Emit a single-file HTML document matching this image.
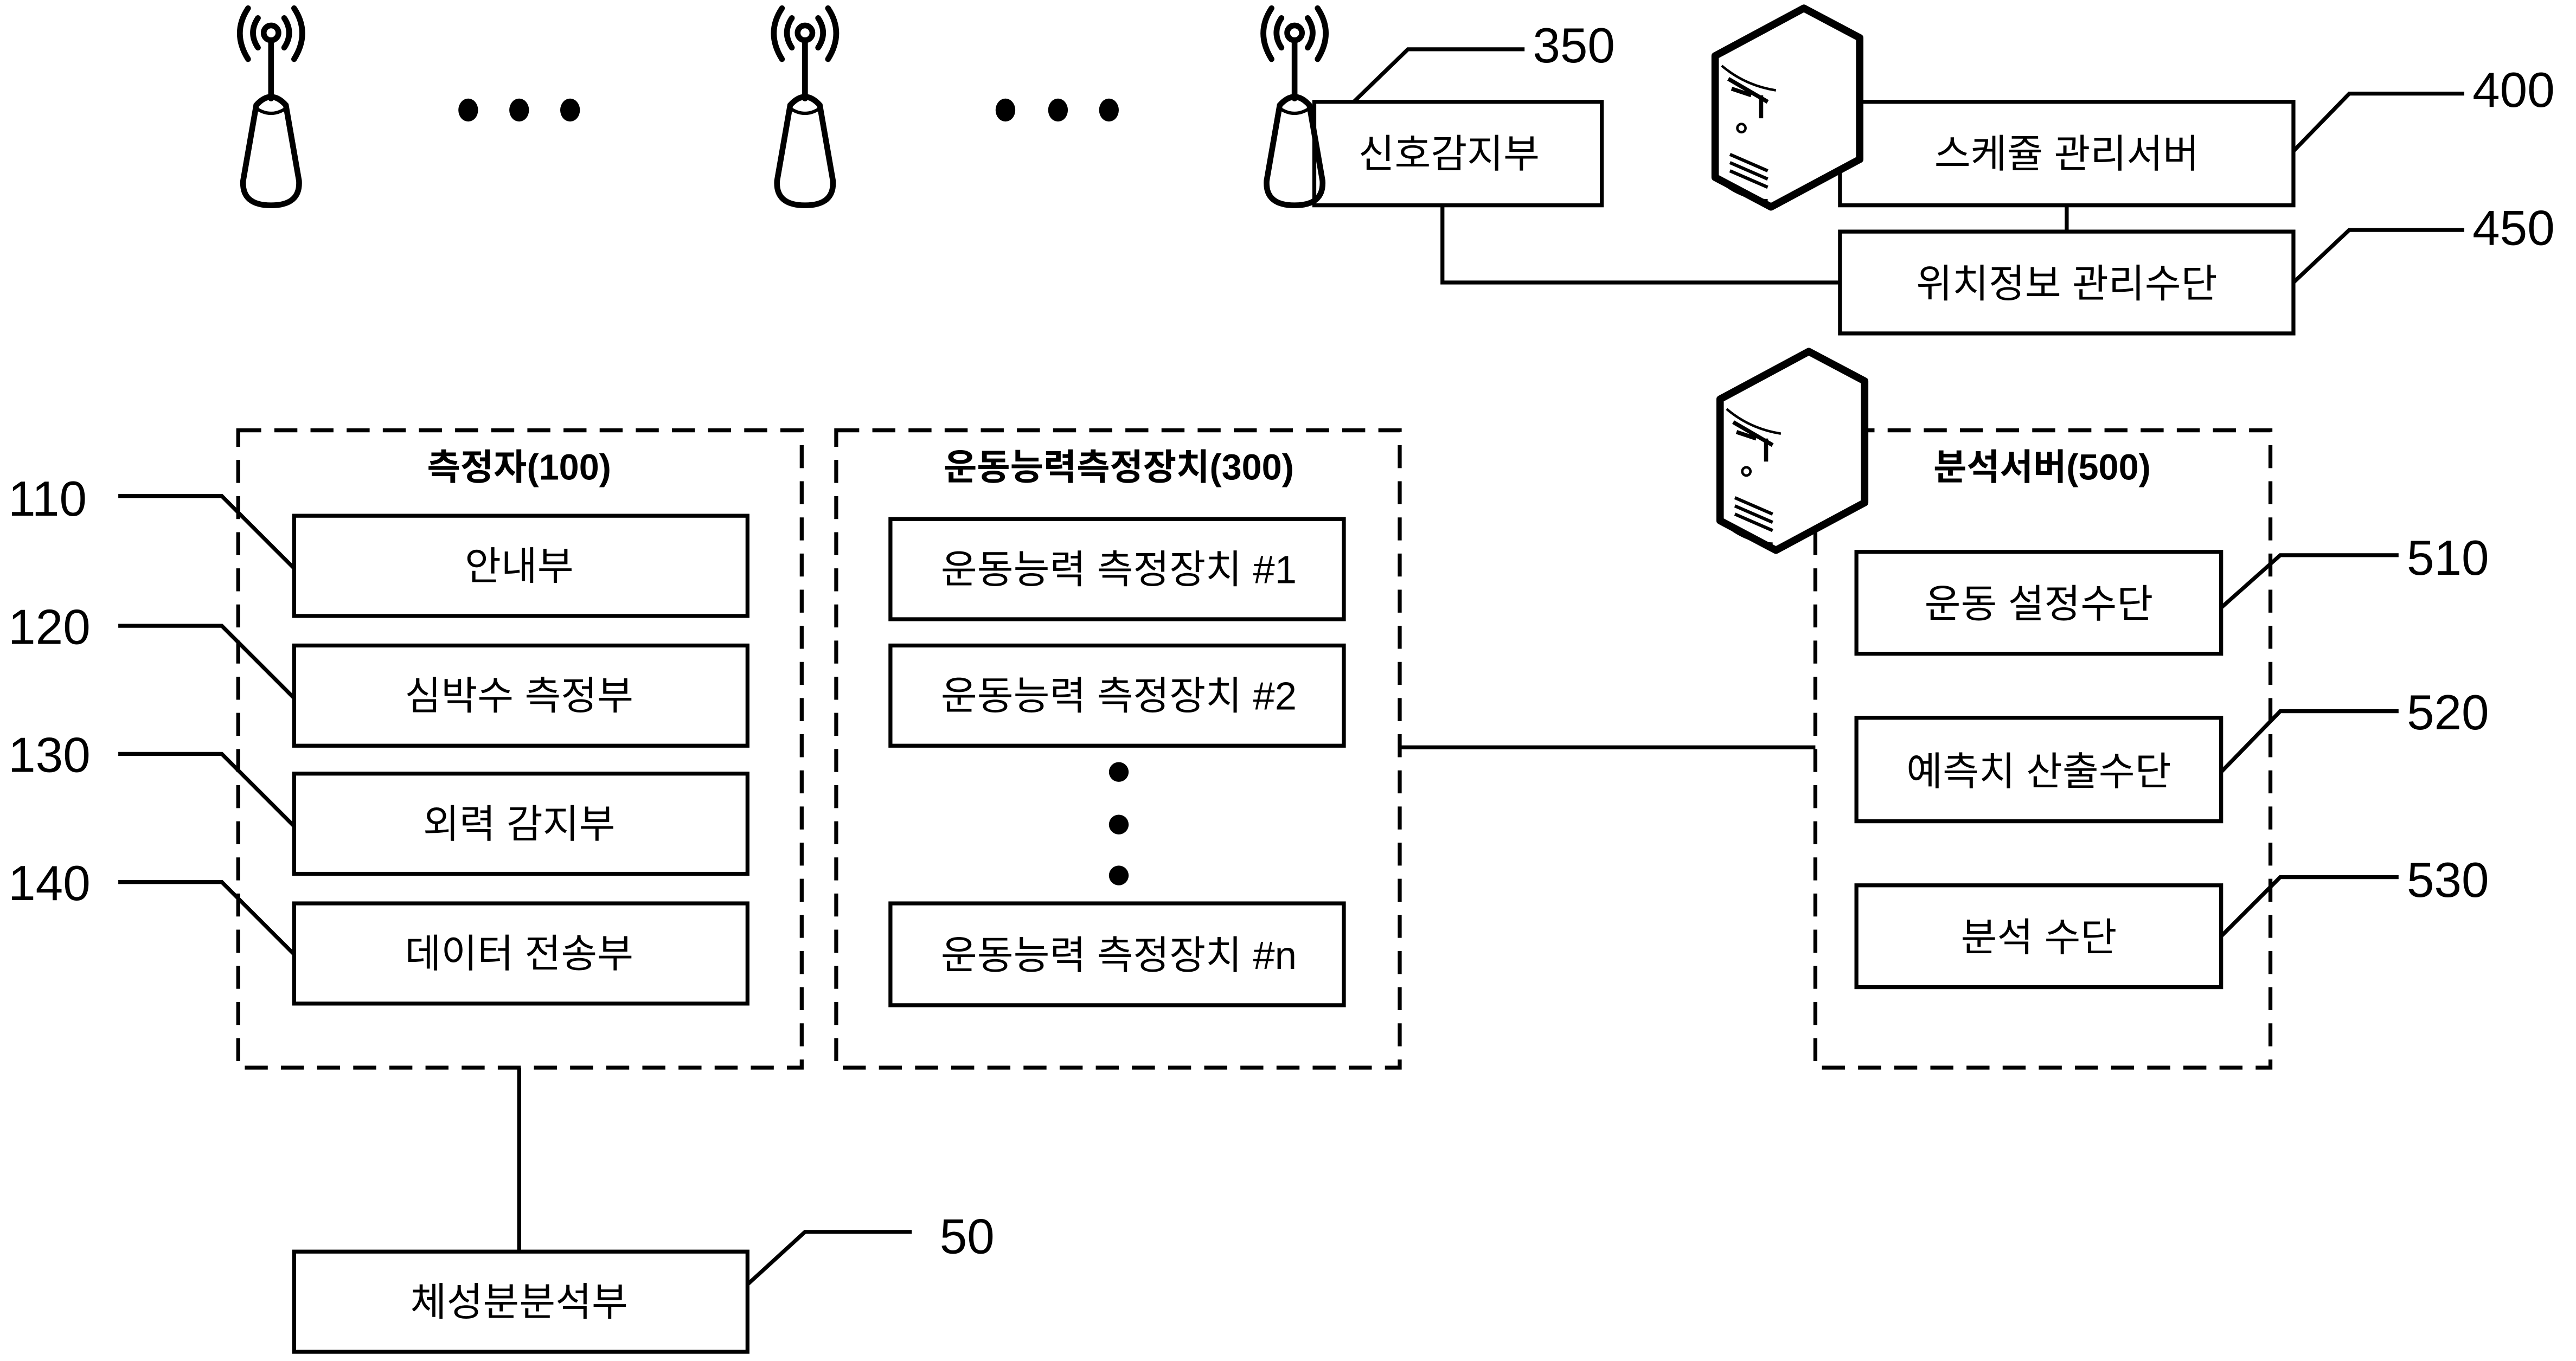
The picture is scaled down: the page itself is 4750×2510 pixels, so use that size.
<!DOCTYPE html>
<html><head><meta charset="utf-8">
<style>
html,body{margin:0;padding:0;background:#fff;}
svg{display:block;}
text{font-family:"Liberation Sans","Noto Sans CJK KR",sans-serif;fill:#000;}
</style></head>
<body>
<svg width="4750" height="2510" viewBox="0 0 1568 828.6" preserveAspectRatio="none" xmlns="http://www.w3.org/2000/svg">
<defs>
<g id="ant" fill="none" stroke="#000" stroke-width="3.5" stroke-linecap="round">
  <circle cx="0" cy="20" r="4.5"/>
  <line x1="0" y1="25" x2="0" y2="60"/>
  <path d="M-9,64 Q0,54 9,64 L17,110 Q18,125 0,125 Q-18,125 -17,110 Z"/>
  <path d="M-9,66 Q0,72 9,66" stroke-width="2"/>
  <path d="M-8,11 Q-14,20 -8,29"/>
  <path d="M8,11 Q14,20 8,29"/>
  <path d="M-14,5 Q-24,20 -14,36"/>
  <path d="M14,5 Q24,20 14,36"/>
</g>
<g id="srv">
  <polygon points="1044,34 1098,5 1132,23 1132,97 1078,126 1044,108" fill="#fff" stroke="#000" stroke-width="4.5" stroke-linejoin="round"/>
  <path d="M1048,40 Q1062,52 1081,55" fill="none" stroke="#000" stroke-width="1.5"/>
  <path d="M1048,111 Q1060,121 1076,122" fill="none" stroke="#000" stroke-width="1.5"/>
  <path d="M1052,48 L1076,62 M1054,54 L1066,58 M1072,58 L1072,72" stroke="#000" stroke-width="2.5" fill="none"/>
  <circle cx="1060" cy="78" r="2.5" fill="none" stroke="#000" stroke-width="1.5"/>
  <path d="M1053,94 L1076,104 M1053,99 L1076,109 M1053,104 L1076,114" stroke="#000" stroke-width="2"/>
</g>
</defs>

<use href="#ant" x="165" y="0"/>
<use href="#ant" x="490" y="0"/>
<g fill="#000">
<ellipse cx="285" cy="67" rx="6" ry="7"/><ellipse cx="316" cy="67" rx="6" ry="7"/><ellipse cx="347" cy="67" rx="6" ry="7"/>
<ellipse cx="612" cy="67" rx="6" ry="7"/><ellipse cx="644" cy="67" rx="6" ry="7"/><ellipse cx="675" cy="67" rx="6" ry="7"/>
</g>

<g fill="none" stroke="#000" stroke-width="2.4">
<rect x="800" y="62" width="175" height="63"/>
<polyline points="878,125 878,172 1120,172"/>
<polyline points="824,62 857,30 928,30"/>
<rect x="1120" y="62" width="276" height="63"/>
<rect x="1120" y="141" width="276" height="62"/>
<line x1="1258" y1="125" x2="1258" y2="141"/>
<polyline points="1396,92 1430,57 1500,57"/>
<polyline points="1396,172 1430,140 1500,140"/>
<rect x="145" y="262" width="343" height="388" stroke-dasharray="14,8"/>
<rect x="509" y="262" width="343" height="388" stroke-dasharray="14,8"/>
<rect x="1105" y="262" width="277" height="388" stroke-dasharray="14,8"/>
<rect x="179" y="314" width="276" height="61"/>
<rect x="179" y="393" width="276" height="61"/>
<rect x="179" y="471" width="276" height="61"/>
<rect x="179" y="550" width="276" height="61"/>
<polyline points="72,302 135,302 179,346"/>
<polyline points="72,381 135,381 179,425"/>
<polyline points="72,459 135,459 179,503"/>
<polyline points="72,537 135,537 179,581"/>
<rect x="542" y="316" width="276" height="61"/>
<rect x="542" y="393" width="276" height="61"/>
<rect x="542" y="550" width="276" height="62"/>
<rect x="1130" y="336" width="222" height="62"/>
<rect x="1130" y="437" width="222" height="63"/>
<rect x="1130" y="539" width="222" height="62"/>
<polyline points="1352,370 1388,338 1460,338"/>
<polyline points="1352,470 1388,433 1460,433"/>
<polyline points="1352,570 1388,534 1460,534"/>
<line x1="852" y1="455" x2="1105" y2="455"/>
<line x1="316" y1="650" x2="316" y2="762"/>
<rect x="179" y="762" width="276" height="61"/>
<polyline points="455,782 490,750 555,750"/>
</g>
<use href="#ant" x="788" y="0"/>
<use href="#srv"/>
<use href="#srv" x="3" y="209"/>
<g fill="#000"><circle cx="681" cy="470" r="6"/><circle cx="681" cy="502" r="6"/><circle cx="681" cy="533" r="6"/></g>

<g font-size="24" text-anchor="middle">
<text x="882" y="102">신호감지부</text>
<text x="1258" y="102">스케쥴 관리서버</text>
<text x="1258" y="181">위치정보 관리수단</text>
<text x="316" y="353">안내부</text>
<text x="316" y="432">심박수 측정부</text>
<text x="316" y="510">외력 감지부</text>
<text x="316" y="589">데이터 전송부</text>
<text x="681" y="355">운동능력 측정장치 #1</text>
<text x="681" y="432">운동능력 측정장치 #2</text>
<text x="681" y="590">운동능력 측정장치 #n</text>
<text x="1241" y="376">운동 설정수단</text>
<text x="1241" y="478">예측치 산출수단</text>
<text x="1241" y="579">분석 수단</text>
<text x="316" y="801">체성분분석부</text>
</g>
<g font-size="22" font-weight="bold" text-anchor="middle">
<text x="316" y="292">측정자(100)</text>
<text x="681" y="292">운동능력측정장치(300)</text>
<text x="1243" y="292">분석서버(500)</text>
</g>
<g font-size="30">
<text x="933" y="38">350</text>
<text x="1505" y="65">400</text>
<text x="1505" y="149">450</text>
<text x="5" y="314">110</text>
<text x="5" y="392">120</text>
<text x="5" y="470">130</text>
<text x="5" y="548">140</text>
<text x="1465" y="350">510</text>
<text x="1465" y="444">520</text>
<text x="1465" y="546">530</text>
<text x="572" y="763">50</text>
</g>
</svg>
</body></html>
